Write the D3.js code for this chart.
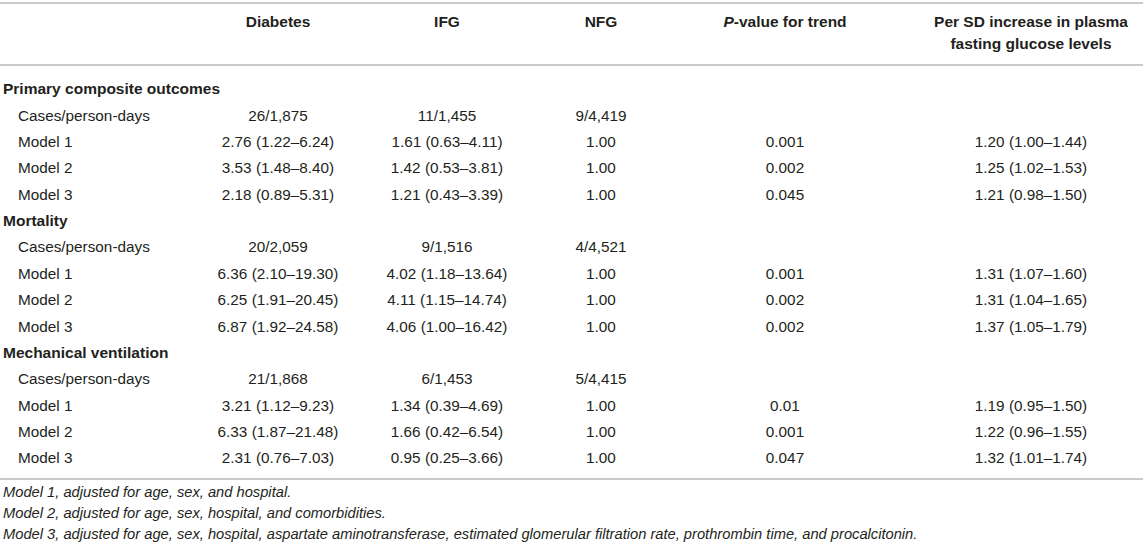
<!DOCTYPE html>
<html>
<head>
<meta charset="utf-8">
<script src="https://cdn.jsdelivr.net/npm/d3@7"></script>
<style>
  body { margin: 0; background: #fff; }
  svg text { font-family: "Liberation Sans", Arial, Helvetica, sans-serif; fill: #231f20; }
  .head { font-weight: bold; font-size: 15.5px; }
  .section { font-weight: bold; font-size: 15.5px; }
  .cell { font-size: 15.3px; }
  .note { font-size: 14.7px; font-style: italic; }
  .rule { stroke: #b8b8b8; stroke-width: 1.5; }
</style>
</head>
<body>
<script>
(function(){

  //table content
  var columns = ["Diabetes", "IFG", "NFG", "P-value for trend", "Per SD increase in plasma fasting glucose levels"];
  var sections = ["Primary composite outcomes", "Mortality", "Mechanical ventilation"];
  var rowLabels = ["Cases/person-days", "Model 1", "Model 2", "Model 3"];

  var diabetesVals = ["26/1,875", "2.76 (1.22–6.24)", "3.53 (1.48–8.40)", "2.18 (0.89–5.31)",
                      "20/2,059", "6.36 (2.10–19.30)", "6.25 (1.91–20.45)", "6.87 (1.92–24.58)",
                      "21/1,868", "3.21 (1.12–9.23)", "6.33 (1.87–21.48)", "2.31 (0.76–7.03)"];
  var ifgVals = ["11/1,455", "1.61 (0.63–4.11)", "1.42 (0.53–3.81)", "1.21 (0.43–3.39)",
                 "9/1,516", "4.02 (1.18–13.64)", "4.11 (1.15–14.74)", "4.06 (1.00–16.42)",
                 "6/1,453", "1.34 (0.39–4.69)", "1.66 (0.42–6.54)", "0.95 (0.25–3.66)"];
  var nfgVals = ["9/4,419", "1.00", "1.00", "1.00",
                 "4/4,521", "1.00", "1.00", "1.00",
                 "5/4,415", "1.00", "1.00", "1.00"];
  var pTrendVals = ["", "0.001", "0.002", "0.045",
                    "", "0.001", "0.002", "0.002",
                    "", "0.01", "0.001", "0.047"];
  var perSdVals = ["", "1.20 (1.00–1.44)", "1.25 (1.02–1.53)", "1.21 (0.98–1.50)",
                   "", "1.31 (1.07–1.60)", "1.31 (1.04–1.65)", "1.37 (1.05–1.79)",
                   "", "1.19 (0.95–1.50)", "1.22 (0.96–1.55)", "1.32 (1.01–1.74)"];

  var footnotes = ["Model 1, adjusted for age, sex, and hospital.",
                   "Model 2, adjusted for age, sex, hospital, and comorbidities.",
                   "Model 3, adjusted for age, sex, hospital, aspartate aminotransferase, estimated glomerular filtration rate, prothrombin time, and procalcitonin."];

  //frame
  var width = 1143,
      height = 546;

  var svg = d3.select("body")
      .append("svg")
      .attr("width", width)
      .attr("height", height);

  //build the list of body rows: section header then its 4 sub rows
  var rows = [];
  sections.forEach(function(s, si){
    rows.push({label: s, section: true});
    rowLabels.forEach(function(r, ri){
      rows.push({label: r, section: false, k: si * rowLabels.length + ri});
    });
  });

  var colData = [diabetesVals, ifgVals, nfgVals, pTrendVals, perSdVals];

  //scales: column centres and row centres
  var xCol = d3.scaleOrdinal()
      .domain(columns)
      .range([278, 447, 601, 785, 1031]);

  var yRow = d3.scalePoint()
      .domain(d3.range(rows.length))
      .range([89, 458]);

  //horizontal rules
  var rules = [3, 65, 479];
  svg.selectAll(".rule")
      .data(rules)
      .enter()
      .append("line")
      .attr("class", "rule")
      .attr("x1", 0)
      .attr("x2", width)
      .attr("y1", function(d){ return d; })
      .attr("y2", function(d){ return d; });

  //header
  var head = svg.selectAll(".head")
      .data(columns)
      .enter()
      .append("text")
      .attr("class", "head")
      .attr("text-anchor", "middle")
      .attr("x", function(d){ return xCol(d); })
      .attr("y", 22)
      .attr("dy", "0.35em");

  head.each(function(d){
    var t = d3.select(this);
    if (d.indexOf("P-value") === 0){
      t.append("tspan").style("font-style", "italic").text("P");
      t.append("tspan").text(d.slice(1));
    } else if (d.indexOf("Per SD") === 0){
      t.append("tspan").attr("x", xCol(d)).text("Per SD increase in plasma");
      t.append("tspan").attr("x", xCol(d)).attr("dy", 22).text("fasting glucose levels");
    } else {
      t.text(d);
    }
  });

  //row labels
  svg.selectAll(".label")
      .data(rows)
      .enter()
      .append("text")
      .attr("class", function(d){ return d.section ? "section" : "cell"; })
      .attr("x", function(d){ return d.section ? 3 : 18; })
      .attr("y", function(d, i){ return yRow(i); })
      .attr("dy", "0.35em")
      .text(function(d){ return d.label; });

  //cells
  columns.forEach(function(c, ci){
    svg.selectAll(".cell-" + ci)
        .data(rows.filter(function(r){ return !r.section; }))
        .enter()
        .append("text")
        .attr("class", "cell cell-" + ci)
        .attr("text-anchor", "middle")
        .attr("x", xCol(c))
        .attr("y", function(d){ return yRow(rows.indexOf(d)); })
        .attr("dy", "0.35em")
        .text(function(d){ return colData[ci][d.k]; });
  });

  //footnotes
  svg.selectAll(".note")
      .data(footnotes)
      .enter()
      .append("text")
      .attr("class", "note")
      .attr("x", 3)
      .attr("y", function(d, i){ return 492 + i * 21; })
      .attr("dy", "0.35em")
      .text(function(d){ return d; });

})();
</script>
</body>
</html>
